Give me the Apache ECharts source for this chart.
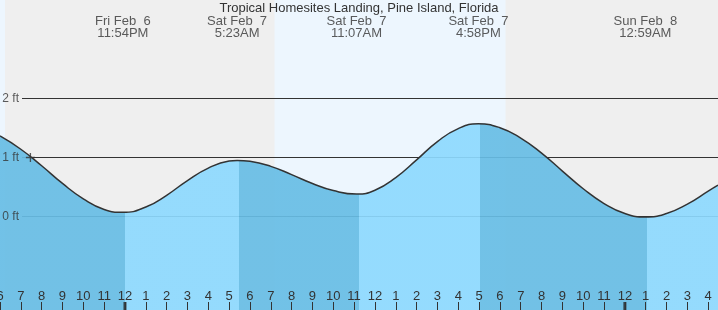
<!DOCTYPE html>
<html>
<head>
<meta charset="utf-8">
<script src="https://cdn.jsdelivr.net/npm/echarts@6/dist/echarts.min.js"></script>
<style>
html,body{margin:0;padding:0;background:#efefef;}
#chart{width:718px;height:310px;}
</style>
</head>
<body>
<div id="chart"></div>
<script>
// Hours relative to Sat Feb 7 00:00
const times  = [-6, -5, -4, -3, -2, -1, -0.1, 1, 2, 3, 4, 5, 5.383, 6, 7, 8, 9, 10, 11.117, 12, 13, 14, 15, 16, 16.967, 18, 19, 20, 21, 22, 23, 24, 24.983, 26, 27, 28, 28.47];
const levels = [1.365, 1.14, 0.86, 0.56, 0.30, 0.12, 0.07, 0.16, 0.36, 0.61, 0.82, 0.94, 0.95, 0.935, 0.85, 0.71, 0.56, 0.44, 0.38, 0.445, 0.66, 0.96, 1.27, 1.49, 1.57, 1.505, 1.33, 1.075, 0.77, 0.47, 0.22, 0.05, -0.01, 0.05, 0.21, 0.43, 0.53];

const extremeTimes  = [-0.1, 5.383, 11.117, 16.967, 24.983];
const extremeTypes  = ['low', 'high', 'low', 'high', 'low'];
const extremeDays   = ['Fri Feb  6', 'Sat Feb  7', 'Sat Feb  7', 'Sat Feb  7', 'Sun Feb  8'];
const extremeClock  = ['11:54PM', '5:23AM', '11:07AM', '4:58PM', '12:59AM'];

const dayIntervals = [[-6.2, -5.76], [7.18, 18.27]];   // daylight (sunset 6:14PM, sunrise 7:11AM, sunset 6:16PM)
const midnights = [0, 24];
const gridLevels = [0, 1, 2];
const markerTime = [-4.54];
const markerLevel = [1.0];

const tickLabels = ['6','7','8','9','10','11','12','1','2','3','4','5','6','7','8','9','10','11','12','1','2','3','4','5','6','7','8','9','10','11','12','1','2','3','4'];

const title = 'Tropical Homesites Landing, Pine Island, Florida';

const xMin = -6, xMax = 28.47;
const yMax = 3.6695, yMin = -1.5847;
const W = 718;
const pxPerHour = W / (xMax - xMin);
const lineStart = xMin + 22 / pxPerHour;
const fillShift = 2 / pxPerHour;

const FONT = "'Liberation Sans', Arial, sans-serif";
const TXT = '#333';
const LIGHT = 'rgb(141,217,254)';
const DARK = 'rgb(103,189,229)';

const curve = times.map((t, i) => [t, levels[i]]);

// fill pieces: falling tide dark, rising tide light
const bounds = [xMin - 1].concat(extremeTimes.map(t => t + fillShift), [xMax + 1]);
const pieces = [];
for (let i = 0; i < bounds.length - 1; i++) {
  let falling;
  if (i < extremeTimes.length) falling = extremeTypes[i] === 'low';
  else falling = extremeTypes[extremeTypes.length - 1] === 'high';
  pieces.push({ gte: bounds[i], lt: bounds[i + 1], color: falling ? DARK : LIGHT });
}

const series = [];
// background day areas
series.push({
  type: 'line', data: [], silent: true,
  markArea: {
    silent: true,
    itemStyle: { color: '#edf6fe' },
    data: dayIntervals.map(d => [{ coord: [d[0], yMax + 1] }, { coord: [d[1], yMin - 1] }])
  }
});
// grid lines
gridLevels.forEach(v => {
  series.push({
    type: 'line', z: 2, silent: true, symbol: 'none', animation: false,
    lineStyle: { color: '#333', width: 1 },
    data: [[lineStart, v], [xMax, v]]
  });
});
// grid line labels
series.push({
  type: 'scatter', z: 6, silent: true, animation: false, symbolSize: 0,
  label: {
    show: true, position: 'left', distance: 3, color: TXT, fontSize: 12, fontFamily: FONT,
    formatter: p => gridLevels[p.dataIndex] + ' ft'
  },
  data: gridLevels.map(v => [lineStart, v])
});
const fillIndex = series.length;
series.push({
  type: 'line', z: 3, smooth: true, symbol: 'none', silent: true, animation: false,
  data: curve,
  lineStyle: { width: 0 },
  areaStyle: { opacity: 0.92, origin: 'start' }
});
series.push({
  type: 'line', z: 4, smooth: true, symbol: 'none', silent: true, animation: false,
  data: curve,
  lineStyle: { color: '#333', width: 1.5 }
});
// current marker
series.push({
  type: 'scatter', z: 5, silent: true, animation: false,
  symbol: 'path://M0,5L10,5M5,0L5,10', symbolSize: 9,
  itemStyle: { color: 'none', borderColor: '#333', borderWidth: 1.3 },
  data: markerTime.map((t, i) => [t, markerLevel[i]])
});
// midnight ticks
series.push({
  type: 'scatter', z: 7, silent: true, animation: false, clip: false,
  symbol: 'rect', symbolSize: [3, 8], symbolOffset: [0, -4],
  itemStyle: { color: '#222' },
  data: midnights.map(t => [t, yMin])
});
// extreme labels at top
series.push({
  type: 'scatter', z: 6, silent: true, animation: false, clip: false,
  symbolSize: 0,
  label: {
    show: true, position: 'bottom', distance: 15,
    color: TXT, fontSize: 13, fontFamily: FONT, lineHeight: 12.5, align: 'center',
    formatter: p => extremeDays[p.dataIndex] + '\n' + extremeClock[p.dataIndex]
  },
  data: extremeTimes.map(t => [t, yMax])
});

const chart = echarts.init(document.getElementById('chart'), null, { renderer: 'canvas' });
chart.setOption({
  backgroundColor: '#efefef',
  animation: false,
  textStyle: { fontFamily: FONT },
  title: {
    text: title, left: 'center', top: 2, padding: 0,
    textStyle: { fontSize: 13, fontWeight: 'normal', color: TXT, fontFamily: FONT }
  },
  grid: { left: 0, right: 0, top: 0, bottom: 0, containLabel: false, outerBoundsMode: 'none' },
  xAxis: {
    type: 'value', min: xMin, max: xMax, interval: 1, z: 10,
    axisLine: { show: false, onZero: false },
    splitLine: { show: false },
    axisTick: { inside: true, length: 8, lineStyle: { color: '#333', width: 1 } },
    axisLabel: {
      inside: true, margin: 7, color: TXT, fontSize: 13, fontFamily: FONT,
      showMaxLabel: false, hideOverlap: false,
      formatter: v => {
        const i = Math.round(v - xMin);
        return Math.abs(v - Math.round(v)) < 1e-6 ? (tickLabels[i] || '') : '';
      }
    }
  },
  yAxis: { type: 'value', min: yMin, max: yMax, show: false },
  visualMap: {
    type: 'piecewise', show: false, dimension: 0, seriesIndex: fillIndex,
    pieces: pieces
  },
  series: series
});
</script>
</body>
</html>
